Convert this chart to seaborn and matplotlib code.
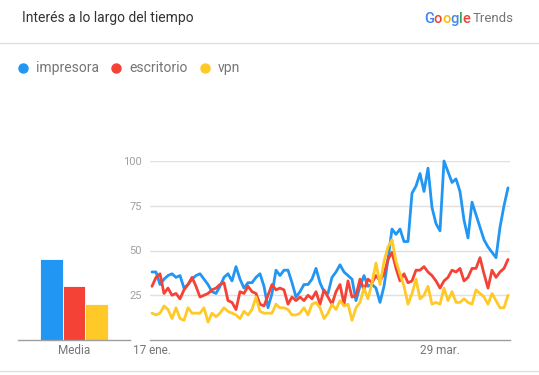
import pandas as pd
import matplotlib
matplotlib.use('Agg')
import matplotlib.pyplot as plt
import seaborn as sns

# search terms and their Google Trends colours
terms = ['impresora', 'escritorio', 'vpn']
colors = ['#2196F3', '#F44336', '#FFCA28']

# average interest (left bar panel)
averages = [45, 30, 20]

# daily interest, 90 days starting 17 Jan 2020
start_date = '2020-01-17'
impresora = [38, 38, 31, 34, 36, 37, 35, 36, 29, 31,
             34, 36, 37, 34, 31, 27, 26, 30, 35, 37,
             33, 41, 34, 29, 32, 32, 35, 37, 30, 18,
             26, 39, 36, 39, 39, 32, 24, 27, 31, 31,
             34, 40, 32, 27, 26, 35, 38, 42, 38, 36,
             34, 22, 30, 36, 30, 31, 29, 21, 30, 45,
             62, 59, 62, 55, 55, 82, 86, 93, 83, 96,
             74, 65, 61, 100, 94, 88, 90, 83, 67, 57,
             77, 70, 63, 56, 52, 49, 46, 63, 75, 85]
escritorio = [30, 35, 37, 26, 29, 25, 26, 23, 28, 31,
              35, 30, 24, 25, 26, 28, 29, 31, 32, 22,
              21, 17, 27, 26, 30, 27, 26, 20, 19, 25,
              31, 28, 29, 28, 20, 24, 22, 24, 22, 25,
              23, 27, 20, 28, 24, 20, 27, 31, 20, 33,
              24, 25, 34, 28, 34, 32, 36, 33, 37, 45,
              49, 40, 33, 37, 32, 33, 39, 39, 41, 38,
              36, 33, 29, 33, 35, 39, 38, 40, 33, 35,
              40, 40, 46, 37, 29, 39, 35, 38, 40, 45]
vpn = [15, 14, 15, 19, 17, 12, 18, 12, 11, 18,
       15, 15, 15, 18, 10, 15, 13, 15, 18, 16,
       15, 14, 12, 16, 14, 17, 24, 16, 15, 15,
       15, 20, 18, 18, 17, 14, 14, 15, 18, 14,
       20, 21, 18, 12, 15, 20, 17, 22, 19, 20,
       11, 18, 21, 29, 23, 32, 43, 31, 44, 52,
       56, 44, 37, 30, 20, 26, 34, 23, 25, 30,
       20, 21, 20, 29, 22, 27, 21, 21, 23, 21,
       20, 28, 26, 24, 20, 26, 22, 18, 18, 25]

tick_dates = ['2020-01-17', '2020-03-29']
tick_labels = ['17 ene.', '29 mar.']
y_ticks = [25, 50, 75, 100]

sns.set_theme(style='white')
plt.rcParams['font.family'] = ['Roboto', 'DejaVu Sans']

dates = pd.date_range(start_date, periods=len(impresora), freq='D')
df = pd.DataFrame({
    'fecha': list(dates) * 3,
    'interes': impresora + escritorio + vpn,
    'termino': [t for t in terms for _ in range(len(dates))],
})
bars = pd.DataFrame({'grupo': ['Media'] * 3, 'valor': averages, 'termino': terms})

fig = plt.figure(figsize=(5.39, 3.75), dpi=100)
W, H = 539, 375

def fx(px):
    return px / W

def fy(py):
    return 1 - py / H

# header
fig.text(fx(22), fy(18), 'Interés a lo largo del tiempo', fontsize=10, color='#333333', va='center', ha='left')
fig.add_artist(plt.Line2D([0, 1], [fy(43), fy(43)], color='#e0e0e0', lw=1))
fig.add_artist(plt.Line2D([0, 1], [fy(371), fy(371)], color='#e0e0e0', lw=1))

# Google Trends logo, letter by letter
fig.canvas.draw()
renderer = fig.canvas.get_renderer()
x = fx(424)
logo = [('G', '#4285F4'), ('o', '#EA4335'), ('o', '#FBBC05'), ('g', '#4285F4'),
        ('l', '#34A853'), ('e', '#EA4335')]
for ch, c in logo:
    t = fig.text(x, fy(19), ch, fontsize=10.5, color=c, va='center', ha='left', fontweight='medium')
    bb = t.get_window_extent(renderer)
    x += bb.width / W
fig.text(x + 2 / W, fy(19), 'Trends', fontsize=9.5, color='#757575', va='center', ha='left')

# legend
for (lx, tx), term, c in zip([(23, 36), (116, 129), (205, 218)], terms, colors):
    fig.add_artist(plt.Line2D([fx(lx)], [fy(68)], marker='o', markersize=6.5,
                              color=c, linestyle='none'))
    fig.text(fx(tx), fy(68), term, fontsize=10, color='#757575', va='center', ha='left')

bottom = fy(340)
height = fy(161) - bottom

# average bars
axb = fig.add_axes([fx(18), bottom, fx(130) - fx(18), height])
sns.barplot(data=bars, x='grupo', y='valor', hue='termino', palette=colors,
            width=0.61, ax=axb, legend=False, edgecolor='white', linewidth=0.6,
            saturation=1)
axb.set_ylim(0, 100)
axb.set_xlim(-0.5, 0.5)
axb.set_xlabel('')
axb.set_ylabel('')
axb.set_yticks([])
axb.tick_params(axis='x', length=0, labelsize=8.5, labelcolor='#757575', pad=3)
for s in ['top', 'right', 'left']:
    axb.spines[s].set_visible(False)
axb.spines['bottom'].set_color('#9e9e9e')
axb.spines['bottom'].set_linewidth(1)

# time series
ax = fig.add_axes([fx(150), bottom, fx(510) - fx(150), height])
sns.lineplot(data=df, x='fecha', y='interes', hue='termino', palette=colors,
             linewidth=2.0, ax=ax, legend=False, clip_on=False)
ax.set_ylim(0, 100)
ax.set_xlim(dates[0] - pd.Timedelta(hours=12), dates[-1] + pd.Timedelta(hours=12))
ax.set_yticks(y_ticks)
ax.set_xticks(pd.to_datetime(tick_dates))
ax.set_xticklabels(tick_labels)
ax.set_xlabel('')
ax.set_ylabel('')
ax.grid(axis='y', color='#e0e0e0', lw=1)
ax.set_axisbelow(True)
ax.tick_params(axis='y', length=0, labelsize=8, labelcolor='#a0a0a0', pad=6)
ax.tick_params(axis='x', length=0, labelsize=8.5, labelcolor='#757575', pad=3)
for s in ['top', 'right', 'left']:
    ax.spines[s].set_visible(False)
ax.spines['bottom'].set_color('#9e9e9e')
ax.spines['bottom'].set_linewidth(1)

fig.savefig('out.png', dpi=100)
